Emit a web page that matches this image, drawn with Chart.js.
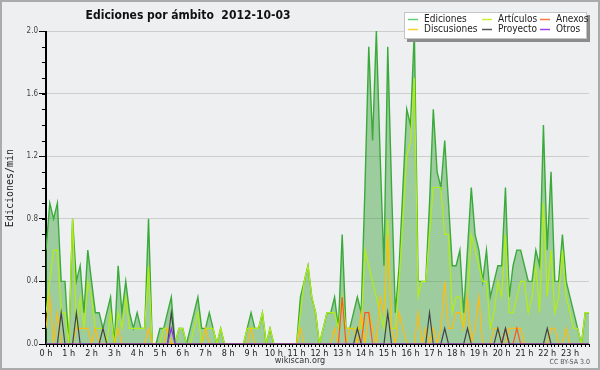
<!DOCTYPE html>
<html><head><meta charset="utf-8">
<script src="https://cdn.jsdelivr.net/npm/chart.js@4/dist/chart.umd.min.js"></script>
<style>html,body{margin:0;padding:0;background:#eeeff1;}canvas{display:block;}</style>
</head><body>
<canvas id="c" width="600" height="370"></canvas>
<script>
// 10-minute slots of 2012-10-03
const categories = [];
for (let h = 0; h < 24; h++) for (let m = 0; m < 60; m += 10) categories.push(h + ':' + String(m).padStart(2, '0'));
const hourTickLabels = ['0 h','1 h','2 h','3 h','4 h','5 h','6 h','7 h','8 h','9 h','10 h','11 h','12 h','13 h','14 h','15 h','16 h','17 h','18 h','19 h','20 h','21 h','22 h','23 h'];
const yTickValues = [0.0, 0.4, 0.8, 1.2, 1.6, 2.0];

const ediciones = [
  0.6,0.9,0.8,0.9,0.4,0.4,0.0,0.8,0.4,0.5,0.2,0.6,
  0.4,0.2,0.2,0.1,0.2,0.3,0.0,0.5,0.2,0.4,0.2,0.1,
  0.2,0.1,0.1,0.8,0.0,0.0,0.1,0.1,0.2,0.3,0.0,0.1,
  0.1,0.0,0.1,0.2,0.3,0.1,0.1,0.2,0.1,0.0,0.1,0.0,
  0.0,0.0,0.0,0.0,0.0,0.1,0.2,0.1,0.1,0.2,0.0,0.1,
  0.0,0.0,0.0,0.0,0.0,0.0,0.0,0.3,0.4,0.5,0.3,0.2,
  0.0,0.1,0.2,0.2,0.3,0.1,0.7,0.1,0.1,0.2,0.3,0.2,
  1.0,1.9,1.3,2.0,1.2,0.5,1.9,1.0,0.2,0.5,1.0,1.5,
  1.4,2.0,0.4,0.4,0.4,0.9,1.5,1.1,1.0,1.3,0.9,0.5,
  0.5,0.6,0.2,0.6,1.0,0.7,0.6,0.4,0.6,0.3,0.4,0.5,
  0.5,1.0,0.3,0.5,0.6,0.6,0.5,0.4,0.4,0.6,0.5,1.4,
  0.6,1.1,0.4,0.4,0.7,0.4,0.3,0.2,0.1,0.0,0.2,0.2
];
const articulos = [
  0.2,0.4,0.6,0.6,0.2,0.2,0.0,0.8,0.1,0.3,0.1,0.4,
  0.3,0.1,0.1,0.1,0.0,0.2,0.0,0.2,0.1,0.3,0.1,0.1,
  0.1,0.1,0.1,0.5,0.0,0.0,0.0,0.1,0.1,0.0,0.0,0.1,
  0.1,0.0,0.0,0.1,0.2,0.0,0.1,0.1,0.1,0.0,0.1,0.0,
  0.0,0.0,0.0,0.0,0.0,0.1,0.1,0.1,0.1,0.2,0.0,0.1,
  0.0,0.0,0.0,0.0,0.0,0.0,0.0,0.2,0.4,0.5,0.3,0.2,
  0.0,0.1,0.2,0.2,0.2,0.1,0.3,0.1,0.1,0.1,0.1,0.1,
  0.6,0.5,0.4,0.3,0.2,0.1,0.8,0.1,0.1,0.4,0.8,1.2,
  1.3,1.7,0.3,0.4,0.4,0.7,1.0,1.0,1.0,0.7,0.7,0.2,
  0.3,0.3,0.1,0.3,0.7,0.6,0.5,0.4,0.4,0.1,0.2,0.4,
  0.3,0.7,0.2,0.2,0.3,0.4,0.4,0.2,0.3,0.5,0.2,0.9,
  0.3,0.6,0.2,0.3,0.6,0.3,0.2,0.1,0.1,0.0,0.2,0.2
];
const discusiones = [
  0.1,0.3,0.0,0.2,0.0,0.0,0.0,0.0,0.1,0.1,0.1,0.1,
  0.0,0.1,0.0,0.0,0.0,0.0,0.0,0.1,0.0,0.0,0.0,0.0,
  0.0,0.0,0.0,0.1,0.0,0.0,0.0,0.0,0.1,0.0,0.0,0.0,
  0.0,0.0,0.0,0.0,0.0,0.0,0.1,0.0,0.0,0.0,0.0,0.0,
  0.0,0.0,0.0,0.0,0.0,0.0,0.1,0.0,0.0,0.0,0.0,0.0,
  0.0,0.0,0.0,0.0,0.0,0.0,0.0,0.1,0.0,0.0,0.0,0.0,
  0.0,0.0,0.0,0.0,0.1,0.0,0.0,0.0,0.1,0.1,0.0,0.2,
  0.0,0.2,0.1,0.0,0.3,0.2,0.7,0.1,0.0,0.2,0.1,0.0,
  0.0,0.0,0.2,0.0,0.1,0.0,0.1,0.0,0.1,0.4,0.1,0.1,
  0.2,0.2,0.1,0.3,0.0,0.1,0.3,0.0,0.0,0.0,0.1,0.1,
  0.0,0.0,0.1,0.1,0.1,0.1,0.0,0.0,0.0,0.0,0.0,0.0,
  0.0,0.1,0.1,0.0,0.0,0.1,0.0,0.0,0.0,0.0,0.0,0.0
];
const proyecto = [
  0,0,0,0,0.2,0,0,0,0.2,0,0,0,
  0,0,0,0.1,0,0,0,0,0,0,0,0,
  0,0,0,0,0,0,0,0,0,0.2,0,0,
  0,0,0,0,0,0,0,0,0,0,0,0,
  0,0,0,0,0,0,0,0,0,0,0,0,
  0,0,0,0,0,0,0,0,0,0,0,0,
  0,0,0,0,0,0,0,0,0,0,0.1,0,
  0,0,0,0,0,0,0.2,0,0,0,0,0,
  0,0,0,0,0,0.2,0,0,0,0.1,0,0,
  0,0,0,0.1,0,0,0,0,0,0,0,0.1,
  0,0.1,0,0,0,0,0,0,0,0,0,0,
  0.1,0,0,0,0,0,0,0,0,0,0,0
];
const anexos = [
  0,0,0,0,0,0,0,0,0,0,0,0,
  0,0,0,0,0,0,0,0,0,0,0,0,
  0,0,0,0,0,0,0,0,0,0,0,0,
  0,0,0,0,0,0,0,0,0,0,0,0,
  0,0,0,0,0,0,0,0,0,0,0,0,
  0,0,0,0,0,0,0,0,0,0,0,0,
  0,0,0,0,0,0,0.3,0,0,0,0,0,
  0.2,0.2,0,0,0,0,0,0,0,0,0,0,
  0,0,0,0,0,0,0,0,0,0,0,0,
  0,0,0,0,0,0,0,0,0,0,0,0,
  0,0.1,0,0,0.1,0,0,0,0,0,0,0,
  0,0,0,0,0,0,0,0,0,0,0,0
];
const otros = [
  0,0,0,0,0,0,0,0,0,0,0,0,
  0,0,0,0,0,0,0,0,0,0,0,0,
  0,0,0,0,0,0,0,0,0,0.1,0,0,
  0,0,0,0,0,0,0,0,0,0,0,0,
  0,0,0,0,0,0,0,0,0,0,0,0,
  0,0,0,0,0,0,0,0,0,0,0,0,
  0,0,0,0,0,0,0,0,0,0,0,0,
  0,0,0,0,0,0,0,0,0,0,0,0,
  0,0,0,0,0,0,0,0,0,0,0,0,
  0,0,0,0,0,0,0,0,0,0,0,0,
  0,0,0,0,0,0,0,0,0,0,0,0,
  0,0,0,0,0,0,0,0,0,0,0,0
];

const FONT = '"DejaVu Sans Condensed", "DejaVu Sans", sans-serif';
const legendItems = [
  {label:'Ediciones',   color:'#66cc77', x:408, y:19},
  {label:'Artículos',   color:'#c8f030', x:482, y:19},
  {label:'Anexos',      color:'#ff7744', x:540, y:19},
  {label:'Discusiones', color:'#ffcc33', x:408, y:29},
  {label:'Proyecto',    color:'#555555', x:482, y:29},
  {label:'Otros',       color:'#9944ee', x:540, y:29}
];

const decor = {
  id: 'decor',
  beforeDraw(chart) {
    const c = chart.ctx;
    c.save();
    c.fillStyle = '#eeeff1';
    c.fillRect(0, 0, chart.width, chart.height);
    c.restore();
  },
  afterDatasetsDraw(chart) {
    const c = chart.ctx, a = chart.chartArea, ys = chart.scales.y;
    c.save();
    c.strokeStyle = '#000';
    c.lineWidth = 1;
    c.beginPath();
    c.moveTo(a.left - 0.5, a.top); c.lineTo(a.left - 0.5, a.bottom + 0.5);
    c.moveTo(a.left - 0.5, a.bottom + 0.5); c.lineTo(a.right, a.bottom + 0.5);
    // minor y ticks every 0.1
    for (let k = 0; k <= 20; k++) {
      const y = Math.round(ys.getPixelForValue(k / 10)) + 0.5;
      c.moveTo(a.left - 4, y); c.lineTo(a.left, y);
    }
    c.stroke();
    c.restore();
  },
  afterDraw(chart) {
    const c = chart.ctx;
    c.save();
    // frame
    c.strokeStyle = '#ababab';
    c.lineWidth = 2;
    c.strokeRect(1, 1, chart.width - 2, chart.height - 2);
    // title
    c.fillStyle = '#111';
    c.font = 'bold 12px ' + FONT;
    c.textAlign = 'center';
    c.textBaseline = 'middle';
    c.fillText('Ediciones por ámbito  2012-10-03', 188, 16);
    // y title
    c.save();
    c.translate(10, 188);
    c.rotate(-Math.PI / 2);
    c.font = '10px "DejaVu Sans Mono", monospace';
    c.fillStyle = '#222';
    c.fillText('Ediciones/min', 0, 0);
    c.restore();
    // footer
    c.font = '9px ' + FONT;
    c.fillStyle = '#333';
    c.fillText('wikiscan.org', 300, 361);
    c.font = '7px ' + FONT;
    c.fillStyle = '#555';
    c.textAlign = 'right';
    c.fillText('CC BY-SA 3.0', 590, 362);
    // legend
    c.fillStyle = '#8c8c8c';
    c.fillRect(407, 15, 183, 27);
    c.fillStyle = '#ffffff';
    c.fillRect(404, 12, 183, 27);
    c.strokeStyle = '#c4c4c4';
    c.lineWidth = 1;
    c.strokeRect(404.5, 12.5, 182, 26);
    c.font = '10px ' + FONT;
    c.textAlign = 'left';
    c.fillStyle = '#222';
    legendItems.forEach(it => {
      c.strokeStyle = it.color;
      c.lineWidth = 1.5;
      c.beginPath();
      c.moveTo(it.x, it.y + 0.5); c.lineTo(it.x + 10, it.y + 0.5);
      c.stroke();
      c.fillStyle = '#222';
      c.fillText(it.label, it.x + 16, it.y);
    });
    c.restore();
  }
};

const mk = (label, data, color, order, extra) => Object.assign({
  label, data, borderColor: color, backgroundColor: color, borderWidth: 1.2,
  pointRadius: 0, tension: 0, fill: false, order
}, extra || {});

new Chart(document.getElementById('c'), {
  type: 'line',
  data: {
    labels: categories,
    datasets: [
      mk('Ediciones', ediciones, '#3aaa3a', 10, {fill: 'origin', backgroundColor: 'rgba(50,160,50,0.43)', borderWidth: 1.4}),
      mk('Artículos', articulos, '#b4ee10', 5),
      mk('Discusiones', discusiones, '#ffbb11', 4),
      mk('Anexos', anexos, '#ff5522', 3),
      mk('Proyecto', proyecto, '#444444', 2),
      mk('Otros', otros, '#8833ee', 1)
    ]
  },
  options: {
    responsive: false,
    animation: false,
    layout: {padding: {top: 31, right: 11, left: 0, bottom: 0}},
    plugins: {legend: {display: false}, title: {display: false}, tooltip: {enabled: false}},
    scales: {
      x: {
        type: 'category',
        offset: false,
        grid: {drawOnChartArea: false, drawTicks: true, tickLength: 3, tickColor: '#000'},
        border: {display: true, color: '#000'},
        ticks: {autoSkip: false, maxRotation: 0, minRotation: 0, padding: 1, color: '#222',
                font: {family: FONT, size: 9},
                callback: (v, i) => (i % 6 === 0 ? hourTickLabels[i / 6] : '')},
        afterFit: s => { s.height = 26; }
      },
      y: {
        min: 0, max: 2,
        grid: {color: '#cdcdcd', drawTicks: true, tickLength: 7, tickColor: '#000'},
        border: {display: true, color: '#000'},
        afterBuildTicks: s => { s.ticks = yTickValues.map(v => ({value: v})); },
        ticks: {padding: 1, color: '#444', font: {family: FONT, size: 8},
                callback: v => Number(v).toFixed(1)},
        afterFit: s => { s.width = 46; }
      }
    }
  },
  plugins: [decor]
});
</script>
</body></html>
